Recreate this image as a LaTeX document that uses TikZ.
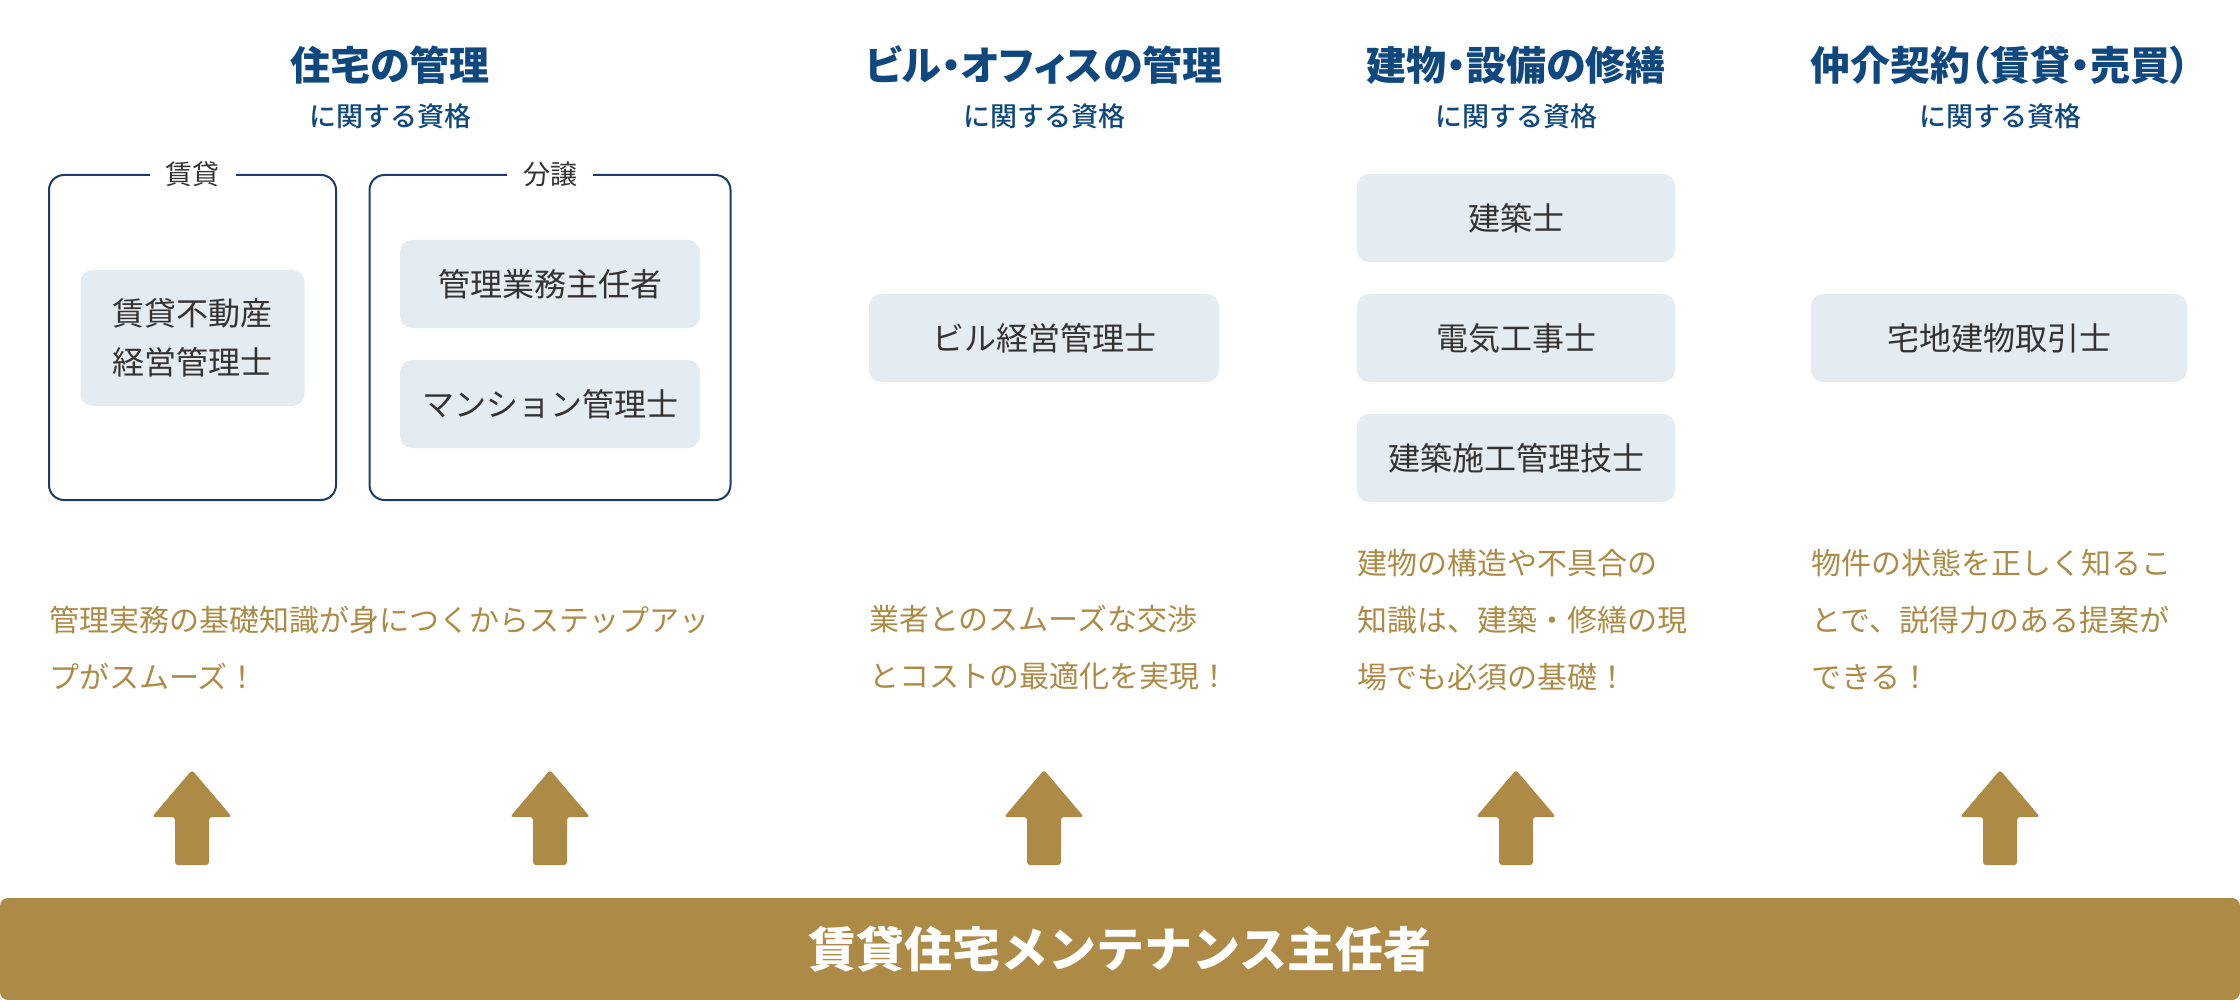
\documentclass[tikz,border=0pt]{standalone}
\usepackage{fontspec}
\setmainfont{Noto Sans CJK JP}
\newfontfamily\headfont{Noto Sans CJK JP}[RawFeature=+palt]
\newfontfamily\subfont{Noto Sans CJK JP Medium}
\usepackage{tikz}
\usetikzlibrary{positioning}
\definecolor{gold}{RGB}{173,139,70}
\definecolor{titleblue}{RGB}{14,72,126}
\definecolor{navy}{RGB}{28,58,106}
\definecolor{certfill}{RGB}{228,235,241}
\definecolor{ink}{RGB}{51,51,51}
\tikzset{
  head/.style={text=titleblue, font=\headfont\bfseries\fontsize{40}{48}\selectfont},
  subhead/.style={text=titleblue, font=\subfont\fontsize{27}{32}\selectfont},
  group/.style={draw=navy, line width=2pt, rounded corners=15pt},
  grouplabel/.style={fill=white, inner xsep=16pt, text=ink, font=\fontsize{27}{32}\selectfont},
  cert/.style={fill=certfill, rounded corners=12pt, text=ink, align=center,
    font=\fontsize{32}{49}\selectfont, minimum height=88pt},
  note/.style={text=gold, align=left, anchor=west, inner sep=0pt,
    font=\fontsize{30}{57}\selectfont},
}

\begin{document}
\begin{tikzpicture}[x=1pt,y=-1pt]
	\useasboundingbox (0,0) rectangle (2240,1000);
	% headings
	\node[head] (h1) at (390,65) {住宅の管理};
	\node[subhead] (s1) at (390,116) {に関する資格};
	\node[head] (h2) at (1044,65) {ビル・オフィスの管理};
	\node[subhead] (s2) at (1044,116) {に関する資格};
	\node[head] (h3) at (1516,65) {建物・設備の修繕};
	\node[subhead] (s3) at (1516,116) {に関する資格};
	\node[head] (h4) at (2000,65) {仲介契約（賃貸・売買）};
	\node[subhead] (s4) at (2000,116) {に関する資格};
	% groups
	\node[group, minimum width=287pt, minimum height=325pt] (rent) at (192.5,337.5) {};
	\node[grouplabel] at (rent.north) {賃貸};
	\node[group, minimum width=361pt, minimum height=325pt] (sale) at (550,337.5) {};
	\node[grouplabel] at (sale.north) {分譲};
	% certificates
	\node[cert, minimum width=224pt, minimum height=136pt] (c1) at (192.5,338) {賃貸不動産\\経営管理士};
	\node[cert, minimum width=300pt] (c2) at (550,284) {管理業務主任者};
	\node[cert, minimum width=300pt] (c3) at (550,404) {マンション管理士};
	\node[cert, minimum width=350pt] (c4) at (1044,338) {ビル経営管理士};
	\node[cert, minimum width=318pt] (c5) at (1516,218) {建築士};
	\node[cert, minimum width=318pt] (c6) at (1516,338) {電気工事士};
	\node[cert, minimum width=318pt] (c7) at (1516,458) {建築施工管理技士};
	\node[cert, minimum width=376pt] (c8) at (1999,338) {宅地建物取引士};
	% notes
	\node[note] (n1) at (49,648) {管理実務の基礎知識が身につくからステップアッ\\プがスムーズ！};
	\node[note] (n2) at (869,648) {業者とのスムーズな交渉\\とコストの最適化を実現！};
	\node[note] (n3) at (1357,620) {建物の構造や不具合の\\知識は、建築・修繕の現\\場でも必須の基礎！};
	\node[note] (n4) at (1811,620) {物件の状態を正しく知るこ\\とで、説得力のある提案が\\できる！};
	% arrows
	\foreach \x in {192,550,1044,1516,2000}
	\fill[gold, rounded corners=3pt] (\x,770) -- (\x+40,817) -- (\x+17,817) -- (\x+17,865)
		-- (\x-17,865) -- (\x-17,817) -- (\x-40,817) -- cycle;
	% base
	\node[fill=gold, rounded corners=8pt, minimum width=2240pt, minimum height=102pt, inner sep=0pt,
		text=white, font=\bfseries\fontsize{48}{54}\selectfont] (base) at (1120,949) {賃貸住宅メンテナンス主任者};
\end{tikzpicture}
\end{document}
